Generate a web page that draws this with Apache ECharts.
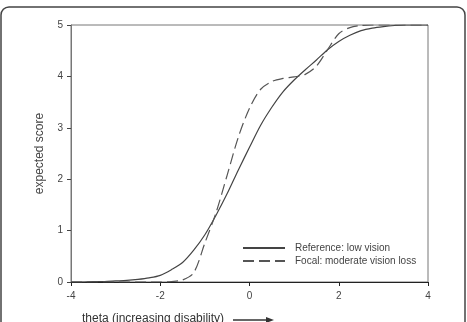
<!DOCTYPE html>
<html>
<head>
<meta charset="utf-8">
<script src="https://cdn.jsdelivr.net/npm/echarts@6/dist/echarts.min.js"></script>
<style>
  html, body { margin: 0; padding: 0; background: #fff; }
  #chart { width: 467px; height: 322px; }
</style>
</head>
<body>
<div id="chart"></div>
<script>
// theta values (x)
const theta = [-4, -3.75, -3.5, -3.25, -3, -2.75, -2.5, -2.25, -2, -1.75, -1.5, -1.25, -1, -0.75, -0.5, -0.25,
  0, 0.25, 0.5, 0.75, 1, 1.25, 1.5, 1.75, 2, 2.25, 2.5, 2.75, 3, 3.25, 3.5, 3.75, 4];
// Reference: low vision (solid)
const refScore = [0, 0, 0.01, 0.01, 0.02, 0.03, 0.05, 0.08, 0.13, 0.24, 0.38, 0.62, 0.92, 1.30, 1.72, 2.18,
  2.62, 3.05, 3.40, 3.70, 3.93, 4.13, 4.32, 4.52, 4.68, 4.80, 4.89, 4.94, 4.97, 4.99, 5, 5, 5];
// Focal: moderate vision loss (dashed)
const focalScore = [0, 0, 0, 0, 0, 0, 0, 0, 0, 0.01, 0.04, 0.18, 0.76, 1.35, 2.08, 2.82,
  3.38, 3.75, 3.90, 3.96, 3.99, 4.04, 4.20, 4.52, 4.83, 4.95, 4.99, 5, 5, 5, 5, 5, 5];
const xTicks = [-4, -2, 0, 2, 4];
const seriesNames = ['Reference: low vision', 'Focal: moderate vision loss'];

const chart = echarts.init(document.getElementById('chart'));
const pair = (ys) => theta.map((t, i) => [t, ys[i]]);
const font = 'Liberation Sans, Arial, sans-serif';

chart.setOption({
  animation: false,
  grid: { left: 71, right: 39, top: 25, bottom: 40, show: true, borderColor: '#777', borderWidth: 1 },
  legend: {
    orient: 'vertical',
    left: 242, top: 243, padding: 0,
    itemWidth: 42, itemHeight: 10, itemGap: 3,
    itemStyle: { opacity: 0 },
    textStyle: { fontFamily: font, fontSize: 10, color: '#444', padding: [0, 0, 0, 5] },
    data: seriesNames
  },
  xAxis: {
    type: 'value', min: -4, max: 4, interval: 2,
    axisLine: { onZero: false, lineStyle: { color: '#222', width: 1.2 } },
    axisTick: { show: true, length: 4, lineStyle: { color: '#222' } },
    axisLabel: { fontFamily: font, fontSize: 10, color: '#444', margin: 9,
      formatter: v => xTicks.includes(v) ? String(v) : '' },
    splitLine: { show: false }
  },
  yAxis: {
    type: 'value', min: 0, max: 5, interval: 1,
    name: 'expected score', nameLocation: 'middle', nameGap: 25, nameRotate: 90,
    nameTextStyle: { fontFamily: font, fontSize: 12, color: '#444' },
    axisLine: { show: true, onZero: false, lineStyle: { color: '#777', width: 1 } },
    axisTick: { show: true, length: 4, lineStyle: { color: '#444' } },
    axisLabel: { fontFamily: font, fontSize: 10, color: '#444', margin: 8 },
    splitLine: { show: false }
  },
  series: [
    {
      name: seriesNames[0], type: 'line', data: pair(refScore), smooth: 0.3,
      symbol: 'none', lineStyle: { color: '#444', width: 1.2, type: 'solid' },
      itemStyle: { color: '#444' }
    },
    {
      name: seriesNames[1], type: 'line', data: pair(focalScore), smooth: 0.3,
      symbol: 'none', lineStyle: { color: '#555', width: 1.2, type: [11, 5] },
      itemStyle: { color: '#555' }
    }
  ],
  graphic: [
    {
      type: 'rect', shape: { x: 1, y: 7, width: 464, height: 340, r: 8 },
      style: { fill: 'none', stroke: '#444', lineWidth: 1.5 }, silent: true
    },
    {
      type: 'text', left: 82, top: 313,
      style: { text: 'theta (increasing disability)', font: '12px ' + font, fill: '#333' }
    },
    {
      type: 'line', shape: { x1: 233, y1: 320, x2: 268, y2: 320 },
      style: { stroke: '#333', lineWidth: 1.5 }
    },
    {
      type: 'polygon', shape: { points: [[274, 320], [266, 317], [266, 323]] },
      style: { fill: '#333' }
    }
  ]
});
</script>
</body>
</html>
